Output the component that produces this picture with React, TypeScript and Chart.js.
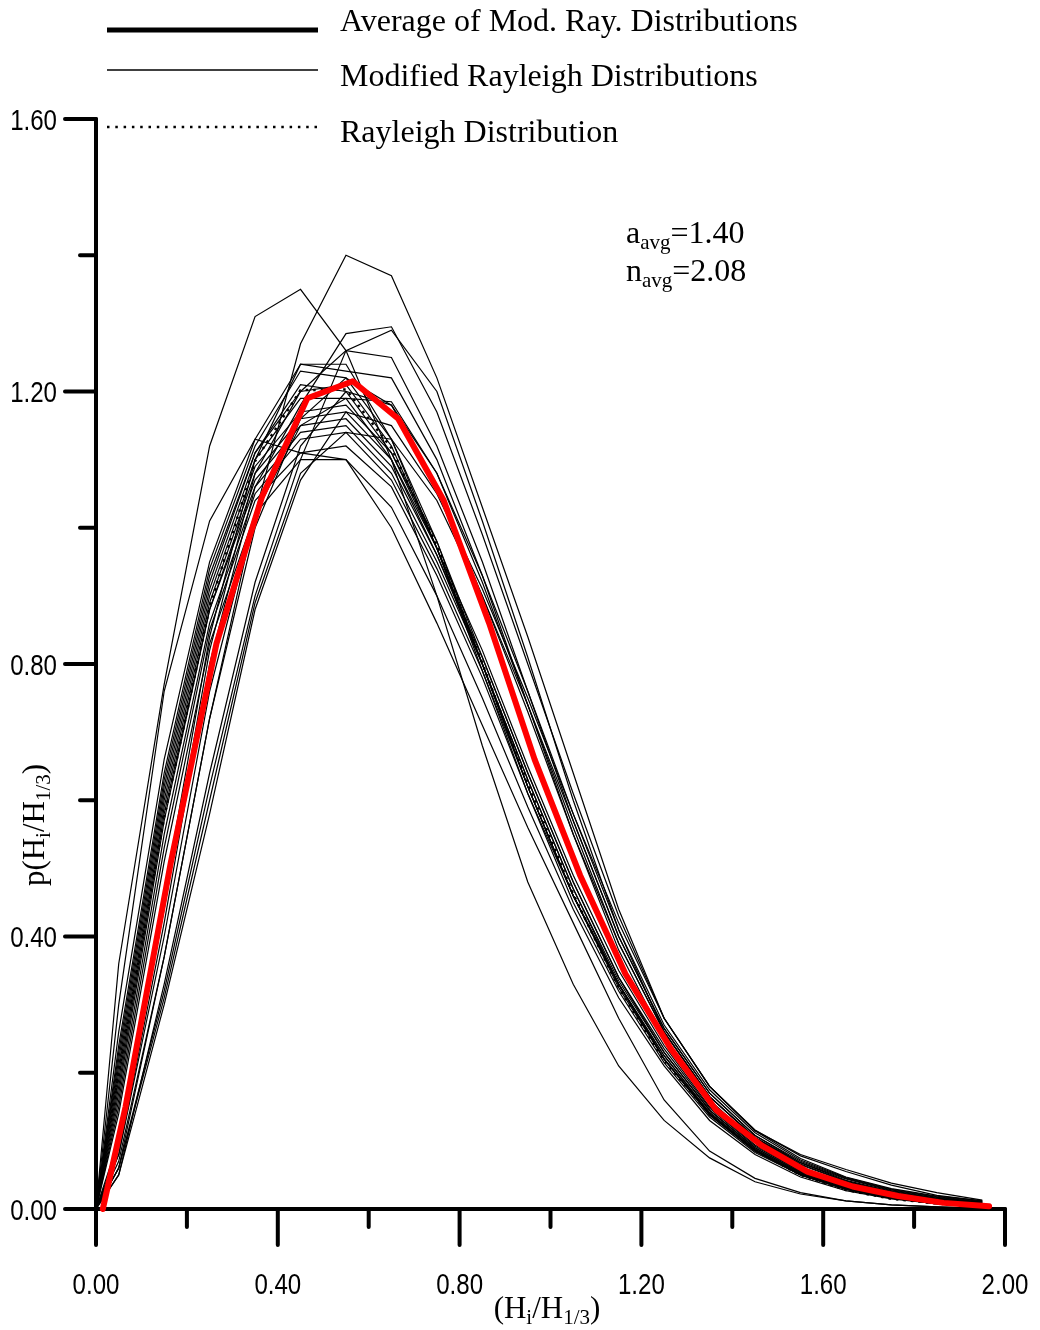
import React, { useEffect, useRef } from 'react';
import { Chart, registerables } from 'chart.js';

Chart.register(...registerables);

// ---------- data ----------
const xThin = [0, 0.05, 0.15, 0.25, 0.35, 0.45, 0.55, 0.65, 0.75, 0.85, 0.95, 1.05, 1.15, 1.25, 1.35, 1.45, 1.55, 1.65, 1.75, 1.85, 1.95];
const xAvg = [0.015, 0.065, 0.165, 0.265, 0.365, 0.465, 0.565, 0.665, 0.765, 0.865, 0.965, 1.065, 1.165, 1.265, 1.365, 1.465, 1.565, 1.665, 1.765, 1.865, 1.965];

const avgModRay = [0, 0.15, 0.51, 0.83, 1.045, 1.19, 1.215, 1.16, 1.04, 0.86, 0.66, 0.49, 0.345, 0.235, 0.145, 0.093, 0.055, 0.033, 0.019, 0.009, 0.004];
const rayleigh = [0, 0.2, 0.575, 0.884, 1.098, 1.202, 1.203, 1.117, 0.974, 0.801, 0.624, 0.462, 0.325, 0.218, 0.14, 0.086, 0.05, 0.028, 0.015, 0.008, 0.004];

const mod01 = [0, 0.36, 0.77, 1.12, 1.31, 1.35, 1.26, 1.1, 0.9, 0.68, 0.48, 0.33, 0.21, 0.13, 0.075, 0.04, 0.022, 0.012, 0.006, 0.003, 0.001];
const mod02 = [0, 0.3, 0.76, 1.01, 1.13, 1.11, 1.1, 1.0, 0.86, 0.71, 0.56, 0.42, 0.28, 0.16, 0.085, 0.045, 0.024, 0.012, 0.006, 0.003, 0.001];
const mod03 = [0, 0.06, 0.37, 0.72, 1.02, 1.27, 1.4, 1.37, 1.22, 1.03, 0.84, 0.64, 0.44, 0.28, 0.18, 0.116, 0.078, 0.055, 0.035, 0.02, 0.012];
const mod04 = [0, 0.08, 0.42, 0.8, 1.06, 1.18, 1.285, 1.295, 1.17, 0.99, 0.8, 0.61, 0.43, 0.28, 0.18, 0.115, 0.08, 0.058, 0.038, 0.024, 0.013];
const mod05 = [0, 0.06, 0.32, 0.62, 0.9, 1.1, 1.26, 1.29, 1.2, 1.01, 0.81, 0.6, 0.41, 0.26, 0.165, 0.105, 0.068, 0.044, 0.027, 0.016, 0.01];
const mod06 = [0, 0.09, 0.44, 0.82, 1.08, 1.2, 1.26, 1.25, 1.12, 0.95, 0.76, 0.57, 0.4, 0.265, 0.17, 0.108, 0.068, 0.042, 0.026, 0.015, 0.009];
const mod07 = [0, 0.1, 0.46, 0.84, 1.1, 1.24, 1.23, 1.22, 1.1, 0.93, 0.74, 0.55, 0.38, 0.25, 0.16, 0.1, 0.062, 0.038, 0.023, 0.013, 0.007];
const mod08 = [0, 0.08, 0.4, 0.76, 1.02, 1.15, 1.19, 1.185, 1.08, 0.92, 0.74, 0.56, 0.39, 0.26, 0.165, 0.104, 0.065, 0.04, 0.024, 0.014, 0.008];
const mod09 = [0, 0.26, 0.66, 0.95, 1.13, 1.24, 1.24, 1.13, 0.97, 0.79, 0.61, 0.45, 0.32, 0.215, 0.135, 0.083, 0.05, 0.029, 0.016, 0.009, 0.004];
const mod10 = [0, 0.24, 0.64, 0.94, 1.12, 1.23, 1.22, 1.13, 0.98, 0.8, 0.62, 0.46, 0.33, 0.22, 0.14, 0.086, 0.051, 0.03, 0.017, 0.009, 0.004];
const mod11 = [0, 0.22, 0.62, 0.92, 1.11, 1.21, 1.2, 1.11, 0.97, 0.8, 0.62, 0.46, 0.325, 0.22, 0.138, 0.085, 0.05, 0.029, 0.016, 0.008, 0.004];
const mod12 = [0, 0.21, 0.61, 0.91, 1.1, 1.19, 1.19, 1.1, 0.96, 0.8, 0.63, 0.47, 0.33, 0.225, 0.142, 0.088, 0.052, 0.03, 0.017, 0.009, 0.004];
const mod13 = [0, 0.2, 0.6, 0.9, 1.09, 1.17, 1.18, 1.11, 0.98, 0.81, 0.64, 0.48, 0.34, 0.23, 0.145, 0.09, 0.054, 0.032, 0.018, 0.01, 0.005];
const mod14 = [0, 0.19, 0.59, 0.89, 1.08, 1.16, 1.17, 1.1, 0.97, 0.82, 0.65, 0.49, 0.35, 0.24, 0.15, 0.094, 0.056, 0.033, 0.019, 0.01, 0.005];
const mod15 = [0, 0.18, 0.58, 0.88, 1.07, 1.15, 1.16, 1.09, 0.96, 0.81, 0.64, 0.48, 0.34, 0.235, 0.148, 0.092, 0.055, 0.032, 0.018, 0.01, 0.005];
const mod16 = [0, 0.17, 0.57, 0.88, 1.06, 1.14, 1.15, 1.08, 0.95, 0.8, 0.63, 0.47, 0.335, 0.23, 0.145, 0.09, 0.053, 0.031, 0.017, 0.009, 0.004];
const mod17 = [0, 0.16, 0.55, 0.86, 1.05, 1.13, 1.14, 1.07, 0.94, 0.79, 0.62, 0.46, 0.33, 0.225, 0.14, 0.087, 0.051, 0.03, 0.016, 0.008, 0.004];
const mod18 = [0, 0.15, 0.53, 0.85, 1.04, 1.11, 1.12, 1.06, 0.93, 0.78, 0.61, 0.46, 0.33, 0.22, 0.138, 0.085, 0.05, 0.029, 0.016, 0.008, 0.004];
const mod19 = [0, 0.14, 0.51, 0.83, 1.02, 1.1, 1.1, 1.03, 0.9, 0.75, 0.59, 0.44, 0.31, 0.21, 0.13, 0.08, 0.047, 0.027, 0.015, 0.008, 0.003];
const mod20 = [0, 0.05, 0.33, 0.64, 0.92, 1.12, 1.2, 1.18, 1.08, 0.93, 0.76, 0.58, 0.41, 0.27, 0.175, 0.112, 0.072, 0.046, 0.029, 0.018, 0.011];
const mod21 = [0, 0.07, 0.37, 0.72, 1.0, 1.16, 1.22, 1.18, 1.06, 0.9, 0.73, 0.55, 0.39, 0.26, 0.165, 0.105, 0.066, 0.041, 0.025, 0.015, 0.009];
const mod22 = [0, 0.05, 0.3, 0.58, 0.88, 1.07, 1.17, 1.15, 1.05, 0.91, 0.75, 0.58, 0.42, 0.28, 0.18, 0.115, 0.074, 0.047, 0.03, 0.019, 0.012];
const mod23 = [0, 0.06, 0.31, 0.6, 0.89, 1.08, 1.14, 1.13, 1.04, 0.9, 0.74, 0.57, 0.4, 0.265, 0.17, 0.108, 0.07, 0.045, 0.028, 0.017, 0.01];
const mod24 = [0, 0.23, 0.63, 0.93, 1.11, 1.2, 1.21, 1.12, 0.97, 0.8, 0.62, 0.46, 0.33, 0.22, 0.14, 0.086, 0.05, 0.029, 0.016, 0.008, 0.004];

const modCurves = [mod01, mod02, mod03, mod04, mod05, mod06, mod07, mod08, mod09, mod10, mod11, mod12, mod13, mod14, mod15, mod16, mod17, mod18, mod19, mod20, mod21, mod22, mod23, mod24];

const xMajorTicks = [0, 0.4, 0.8, 1.2, 1.6, 2.0];
const xMinorTicks = [0.2, 0.6, 1.0, 1.4, 1.8];
const xTickLabels = ['0.00', '0.40', '0.80', '1.20', '1.60', '2.00'];
const yMajorTicks = [0, 0.4, 0.8, 1.2, 1.6];
const yMinorTicks = [0.2, 0.6, 1.0, 1.4];
const yTickLabels = ['0.00', '0.40', '0.80', '1.20', '1.60'];

const legendLabels = ['Average of Mod. Ray. Distributions', 'Modified Rayleigh Distributions', 'Rayleigh Distribution'];
type Part = [string, boolean];
const annotA: Part[] = [['a', false], ['avg', true], ['=1.40', false]];
const annotN: Part[] = [['n', false], ['avg', true], ['=2.08', false]];
const xTitle: Part[] = [['(H', false], ['i', true], ['/H', false], ['1/3', true], [')', false]];
const yTitle: Part[] = [['p(H', false], ['i', true], ['/H', false], ['1/3', true], [')', false]];

// ---------- styling ----------
const SERIF = '"Liberation Serif", "Times New Roman", serif';
const TICKFONT = '29px "Liberation Sans", Arial, sans-serif';
const TICK_SQUEEZE = 0.83;
const MAIN = 32;
const SUB = 21;

function drawParts(ctx: CanvasRenderingContext2D, parts: Part[], x: number, y: number, align: 'left' | 'center', main = MAIN, sub = SUB) {
  const widths = parts.map(([t, s]) => {
    ctx.font = `${s ? sub : main}px ${SERIF}`;
    return ctx.measureText(t).width;
  });
  const total = widths.reduce((a, b) => a + b, 0);
  let cx = align === 'center' ? x - total / 2 : x;
  ctx.textAlign = 'left';
  ctx.textBaseline = 'alphabetic';
  parts.forEach(([t, s], i) => {
    ctx.font = `${s ? sub : main}px ${SERIF}`;
    ctx.fillText(t, cx, y + (s ? 6 : 0));
    cx += widths[i];
  });
}

function squeezedText(ctx: CanvasRenderingContext2D, text: string, x: number, y: number, align: CanvasTextAlign) {
  ctx.save();
  ctx.translate(x, y);
  ctx.scale(TICK_SQUEEZE, 1);
  ctx.font = TICKFONT;
  ctx.textAlign = align;
  ctx.textBaseline = 'alphabetic';
  ctx.fillText(text, 0, 0);
  ctx.restore();
}

const decorPlugin = {
  id: 'decor',
  beforeDatasetsDraw(chart: any) {
    const ctx: CanvasRenderingContext2D = chart.ctx;
    const xs = chart.scales.x;
    const ys = chart.scales.y;
    const x0 = xs.getPixelForValue(0);
    const x1 = xs.getPixelForValue(2);
    const y0 = ys.getPixelForValue(0);
    const y1 = ys.getPixelForValue(1.6);
    ctx.save();
    ctx.strokeStyle = '#000';
    ctx.fillStyle = '#000';
    ctx.lineWidth = 4;
    ctx.lineCap = 'round';
    ctx.lineJoin = 'miter';
    ctx.beginPath();
    ctx.moveTo(x0, y1);
    ctx.lineTo(x0, y0);
    ctx.lineTo(x1, y0);
    ctx.stroke();
    ctx.beginPath();
    xMajorTicks.forEach((v) => { const p = xs.getPixelForValue(v); ctx.moveTo(p, y0); ctx.lineTo(p, y0 + 36); });
    xMinorTicks.forEach((v) => { const p = xs.getPixelForValue(v); ctx.moveTo(p, y0); ctx.lineTo(p, y0 + 18); });
    yMajorTicks.forEach((v) => { const p = ys.getPixelForValue(v); ctx.moveTo(x0, p); ctx.lineTo(x0 - 31, p); });
    yMinorTicks.forEach((v) => { const p = ys.getPixelForValue(v); ctx.moveTo(x0, p); ctx.lineTo(x0 - 16, p); });
    ctx.stroke();
    // tick labels
    xMajorTicks.forEach((v, i) => squeezedText(ctx, xTickLabels[i], xs.getPixelForValue(v), y0 + 85, 'center'));
    yMajorTicks.forEach((v, i) => squeezedText(ctx, yTickLabels[i], x0 - 39, ys.getPixelForValue(v) + 10.5, 'right'));
    ctx.restore();
  },
  afterDraw(chart: any) {
    const ctx: CanvasRenderingContext2D = chart.ctx;
    ctx.save();
    ctx.fillStyle = '#000';
    ctx.strokeStyle = '#000';
    // legend
    const lx0 = 107, lx1 = 318, tx = 340;
    ctx.lineCap = 'butt';
    ctx.lineWidth = 5;
    ctx.beginPath(); ctx.moveTo(lx0, 30); ctx.lineTo(lx1, 30); ctx.stroke();
    ctx.lineWidth = 1.5;
    ctx.beginPath(); ctx.moveTo(lx0, 70); ctx.lineTo(lx1, 70); ctx.stroke();
    ctx.lineWidth = 2.5;
    ctx.setLineDash([2.5, 5.8]);
    ctx.beginPath(); ctx.moveTo(lx0, 127); ctx.lineTo(lx1, 127); ctx.stroke();
    ctx.setLineDash([]);
    ctx.font = `${MAIN}px ${SERIF}`;
    ctx.textAlign = 'left';
    ctx.textBaseline = 'alphabetic';
    ctx.fillText(legendLabels[0], tx, 31);
    ctx.fillText(legendLabels[1], tx, 86);
    ctx.fillText(legendLabels[2], tx, 142);
    // annotation
    drawParts(ctx, annotA, 626, 243, 'left');
    drawParts(ctx, annotN, 626, 281, 'left');
    // axis titles
    drawParts(ctx, xTitle, 547, 1318, 'center', 31, 21);
    ctx.translate(44, 825);
    ctx.rotate(-Math.PI / 2);
    drawParts(ctx, yTitle, 0, 0, 'center', 31, 21);
    ctx.restore();
  },
};

export default function App() {
  const ref = useRef<HTMLCanvasElement>(null);
  useEffect(() => {
    const thinSets = modCurves.map((arr, k) => ({
      label: `mod${k + 1}`,
      data: arr.map((y, i) => ({ x: xThin[i], y })),
      borderColor: '#000',
      borderWidth: 1.2,
      pointRadius: 0,
      fill: false,
      tension: 0,
      clip: false as any,
    }));
    const chart = new Chart(ref.current as HTMLCanvasElement, {
      type: 'line',
      data: {
        datasets: [
          {
            label: 'Average of Mod. Ray. Distributions',
            data: avgModRay.map((y, i) => ({ x: xAvg[i], y })),
            borderColor: '#ff0000',
            borderWidth: 6,
            pointRadius: 0,
            fill: false,
            tension: 0,
            borderJoinStyle: 'round',
            borderCapStyle: 'round',
            clip: false as any,
          },
          {
            label: 'Rayleigh Distribution',
            data: rayleigh.map((y, i) => ({ x: xThin[i], y })),
            borderColor: '#000',
            borderWidth: 2.5,
            borderDash: [2.5, 5],
            pointRadius: 0,
            fill: false,
            tension: 0,
            clip: false as any,
          },
          ...thinSets,
        ] as any,
      },
      options: {
        responsive: false,
        animation: false,
        events: [],
        layout: { padding: { top: 119, right: 35, left: 0, bottom: 0 } },
        plugins: { legend: { display: false }, tooltip: { enabled: false }, title: { display: false } },
        scales: {
          x: {
            type: 'linear',
            min: 0,
            max: 2,
            position: 'bottom',
            afterBuildTicks: (s: any) => { s.ticks = xMajorTicks.map((v) => ({ value: v })); },
            afterFit: (s: any) => { s.height = 121; },
            ticks: { display: false },
            grid: { display: false },
            border: { display: false },
          },
          y: {
            type: 'linear',
            min: 0,
            max: 1.6,
            position: 'left',
            afterBuildTicks: (s: any) => { s.ticks = yMajorTicks.map((v) => ({ value: v })); },
            afterFit: (s: any) => { s.width = 96; },
            ticks: { display: false },
            grid: { display: false },
            border: { display: false },
          },
        },
      } as any,
      plugins: [decorPlugin as any],
    });
    return () => chart.destroy();
  }, []);
  return (
    <div style={{ position: 'absolute', left: 0, top: 0, width: 1040, height: 1330, background: '#fff' }}>
      <canvas ref={ref} width={1040} height={1330} style={{ display: 'block', width: 1040, height: 1330 }} />
    </div>
  );
}
